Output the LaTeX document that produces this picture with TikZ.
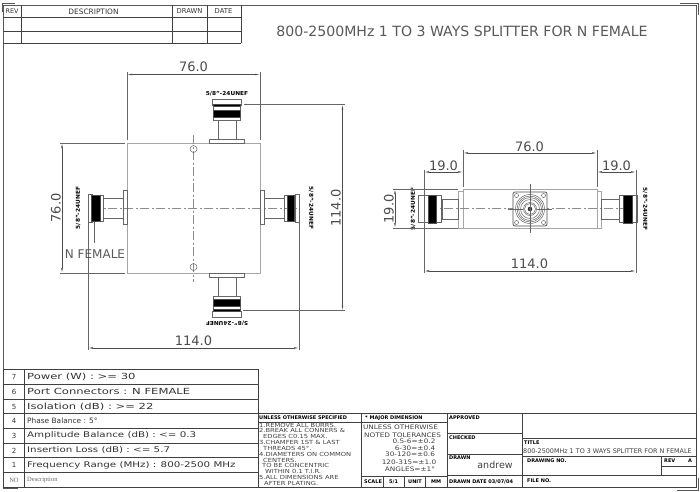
\documentclass[tikz,border=0pt]{standalone}
\usepackage{fontspec}
\setmainfont{DejaVu Sans}
\newfontfamily\notefont{Liberation Serif}
\usetikzlibrary{arrows.meta}
\tikzset{
	frameline/.style={draw=black!65,line width=0.7pt},
	cellline/.style={draw=black!75,line width=0.6pt},
	bodyline/.style={draw=black!35,line width=0.6pt},
	partline/.style={draw=black!60,line width=0.5pt},
	nutband/.style={fill=black,draw=black!70,line width=0.3pt},
	centerline/.style={draw=black!45,line width=0.5pt,dash pattern=on 9pt off 2.5pt on 2pt off 2.5pt},
	extline/.style={draw=black!60,line width=0.5pt},
	dimline/.style={draw=black!70,line width=0.5pt,{Latex[length=5pt,width=1.6pt]}-{Latex[length=5pt,width=1.6pt]}},
	dimtext/.style={inner sep=0pt,text=black!70,font=\fontsize{13}{13}\selectfont},
	tablehead/.style={inner sep=0pt,text=black!80,font=\fontsize{7.4}{7.4}\selectfont},
	threadtext/.style={inner sep=0pt,font=\bfseries\fontsize{5.4}{5.4}\selectfont\addfontfeature{FakeStretch=1.08}},
	headtext/.style={inner sep=0pt,anchor=west,font=\bfseries\fontsize{5}{5}\selectfont},
	spectext/.style={inner sep=0pt,anchor=west,text=black!80},
	notetext/.style={inner sep=0pt,anchor=west,text=black!75,font=\fontsize{5.6}{5.6}\selectfont\addfontfeature{FakeStretch=1.2}},
	toltext/.style={inner sep=0pt,text=black!75,font=\fontsize{6.2}{6.2}\selectfont\addfontfeature{FakeStretch=1.18}},
}
\begin{document}
\begin{tikzpicture}[x=1pt,y=-1pt]
	\useasboundingbox (0,0) rectangle (700,491);
	
	% Frame
	\draw[frameline] (3,488) -- (3,5) -- (696,5) -- (696,478);
	\draw[frameline] (3,488) -- (18,488);
	\draw[frameline] (2,12) -- (2,3) -- (15,3);
	\draw[frameline] (680,3) -- (698,3) -- (698,15);
	\draw[frameline] (698,478) -- (698,490) -- (677,490);
	
	% Revision table
	\draw[cellline] (3,17) -- (241,17) (3,31) -- (241,31) (3,43) -- (241,43);
	\draw[cellline] (21,5) -- (21,43) (172,5) -- (172,43) (207,5) -- (207,43) (241,5) -- (241,43);
	\node[tablehead,font=\fontsize{6.4}{6.4}\selectfont] (rev) at (12,11.5) {REV};
	\node[tablehead] (description) at (93.5,11.5) {DESCRIPTION};
	\node[tablehead,font=\fontsize{6.8}{6.8}\selectfont] (drawn) at (189.5,11.5) {DRAWN};
	\node[tablehead,font=\fontsize{6.8}{6.8}\selectfont] (date) at (223.5,11.5) {DATE};
	\node[inner sep=0pt,text=black!65,font=\fontsize{14.1}{15}\selectfont] (title) at (462,31) {800-2500MHz 1 TO 3 WAYS SPLITTER FOR N FEMALE};
	
	% Left view, body
	\draw[bodyline] (127,143) rectangle (260,273);
	\draw[centerline] (193.5,135) -- (193.5,282);
	\draw[centerline] (92,208) -- (296,208);
	\draw[partline] (193.5,149) circle (3.5);
	\draw[partline] (193.5,267) circle (3.5);
	
	% Left view, top connector
	\draw[partline] (209,139) rectangle (244,143);
	\draw[partline] (218,120) rectangle (236,139);
	\draw[partline] (212,99) rectangle (241,105);
	\draw[partline] (213,105) rectangle (240,120);
	\draw[nutband] (213,104.5) rectangle (240,106.5);
	\draw[nutband] (213,110) rectangle (240,117);
	\node[threadtext] (threadtop) at (227,94) {5/8"-24UNEF};
	
	% Left view, bottom connector
	\draw[partline] (209,273) rectangle (244,277);
	\draw[partline] (218,277) rectangle (236,296);
	\draw[partline] (212,311) rectangle (241,317);
	\draw[partline] (213,296) rectangle (240,311);
	\draw[nutband] (213,309.5) rectangle (240,311.5);
	\draw[nutband] (213,299) rectangle (240,306);
	\node[threadtext,rotate=180] (threadbottom) at (227,323) {5/8"-24UNEF};
	
	% Left view, left connector
	\draw[partline] (123,190) rectangle (127,224);
	\draw[partline] (103,198) rectangle (123,218);
	\draw[partline] (88,194) rectangle (92,222);
	\draw[partline] (92,195) rectangle (103,221);
	\draw[nutband] (91,195) -- (100,195) -- (100,221) -- (91,221) -- cycle;
	\node[threadtext,rotate=90] (threadleft) at (78,208) {5/8"-24UNEF};
	
	% Left view, right connector
	\draw[partline] (260,190) rectangle (264,224);
	\draw[partline] (264,198) rectangle (284,218);
	\draw[partline] (295,194) rectangle (299,222);
	\draw[partline] (284,195) rectangle (295,221);
	\draw[nutband] (287,195) -- (294,195) -- (294,221) -- (287,221) -- cycle;
	\node[threadtext,rotate=-90] (threadright) at (311,208) {5/8"-24UNEF};
	
	% Left view, dimensions
	\draw[extline] (127,72) -- (127,140);
	\draw[extline] (260,72) -- (260,140);
	\draw[dimline] (127,74.5) -- (260,74.5);
	\node[dimtext] (widthtop) at (193.5,67) {76.0};
	\draw[extline] (60,143) -- (125,143);
	\draw[extline] (60,273) -- (125,273);
	\draw[dimline] (62,143) -- (62,273);
	\node[dimtext,rotate=90] (heightleft) at (56,208) {76.0};
	\draw[extline] (244,104.5) -- (345,104.5);
	\draw[extline] (243,310.5) -- (345,310.5);
	\draw[dimline] (342.5,104.5) -- (342.5,310.5);
	\node[dimtext,rotate=90] (heightright) at (336,208) {114.0};
	\draw[extline] (88,222) -- (88,350);
	\draw[extline] (299,222) -- (299,350);
	\draw[dimline] (88,348) -- (299,348);
	\node[dimtext] (widthbottom) at (193.5,341) {114.0};
	\draw[extline] (94,222) -- (94,243);
	\node[inner sep=0pt,text=black!65,font=\fontsize{12}{12}\selectfont] (femalelabel) at (95,254) {N FEMALE};
	
	% Right view, body
	\draw[bodyline] (463,189) rectangle (597,228);
	\draw[bodyline] (458,191) rectangle (463,228);
	\draw[bodyline] (597,191) rectangle (601,228);
	\draw[centerline] (428,208.5) -- (632,208.5);
	
	% Right view, connectors
	\draw[partline] (442,199) rectangle (458,219);
	\draw[partline] (601,199) rectangle (619,219);
	\draw[partline] (418,195) rectangle (428,222);
	\draw[partline] (428,195) rectangle (441,222);
	\draw[nutband] (428,195) rectangle (436,223);
	\draw[partline] (632,195) rectangle (637,222);
	\draw[partline] (619,195) rectangle (632,222);
	\draw[nutband] (623,195) rectangle (632,223);
	\node[threadtext,rotate=90] (threadsideleft) at (413,209) {5/8"-24UNEF};
	\node[threadtext,rotate=-90] (threadsideright) at (645,209) {5/8"-24UNEF};
	
	% Right view, square flange
	\draw[fill=white,draw=black!70,line width=0.7pt,rounded corners=2pt] (513,192) rectangle (547,226);
	\foreach \r in {14.5,13,11.5,9.5,6.5,5.5}
		\draw[partline] (530,209) circle (\r);
	\draw[fill=black!70] (530,209) circle (2);
	\foreach \i in {-1,1}
		\foreach \j in {-1,1}
			\draw[partline] (530+13.5*\i,209+13.5*\j) circle (2);
	\draw[partline] (530,184) -- (530,233);
	\draw[partline] (508,209) -- (523,209);
	\draw[partline] (537,209) -- (552,209);
	
	% Right view, dimensions
	\draw[extline] (463,150) -- (463,187);
	\draw[extline] (597,150) -- (597,187);
	\draw[dimline] (463,153) -- (597,153);
	\node[dimtext] (widthside) at (529.5,147) {76.0};
	\draw[extline] (424,170) -- (424,273);
	\draw[extline] (636,170) -- (636,273);
	\draw[dimline] (424,172) -- (463,172);
	\draw[dimline] (597,172) -- (636,172);
	\node[dimtext] (stubleft) at (443.5,166) {19.0};
	\node[dimtext] (stubright) at (616.5,166) {19.0};
	\draw[extline] (393,189) -- (458,189);
	\draw[extline] (393,228) -- (458,228);
	\draw[dimline] (395,189) -- (395,228);
	\node[dimtext,rotate=90] (heightside) at (389,209) {19.0};
	\draw[dimline] (424,271) -- (636,271);
	\node[dimtext] (lengthside) at (529.5,264) {114.0};
	
	% Specification table
	\draw[cellline] (3,369.5) -- (258,369.5) -- (258,487) -- (3,487) -- cycle;
	\foreach \y in {384,399,413.5,428,443,457.5,472.5}
		\draw[cellline] (3,\y) -- (258,\y);
	\draw[cellline] (24.5,369.5) -- (24.5,487);
	\foreach \n/\y/\size/\wide/\txt in {7/377/8.4/1.38/{Power (W) : >= 30},
		6/391.5/8.4/1.38/{Port Connectors : N FEMALE},
		5/406.5/8.4/1.38/{Isolation (dB) : >= 22},
		4/421/7.4/1.0/{Phase Balance : 5°},
		3/435.5/7.8/1.32/{Amplitude Balance (dB) : <= 0.3},
		2/450.5/7.8/1.32/{Insertion Loss (dB) : <= 5.7},
		1/465/7.8/1.32/{Frequency Range (MHz) : 800-2500 MHz}} {
		\node[inner sep=0pt,text=black!80,font=\fontsize{7}{7}\selectfont] (no\n) at (14,\y) {\n};
		\node[spectext,font=\fontsize{\size}{\size}\selectfont\addfontfeature{FakeStretch=\wide}] (spec\n) at (27,\y) {\txt};
	}
	\node[inner sep=0pt,text=black!60,font=\notefont\fontsize{6.5}{6.5}\selectfont] (nohead) at (14,480) {NO};
	\node[spectext,text=black!60,font=\notefont\fontsize{6.5}{6.5}\selectfont] (descriptionhead) at (27,480) {Description};
	
	% Title block
	\draw[cellline] (258,413.5) -- (696,413.5) -- (696,487) -- (258,487);
	\draw[cellline] (258,422) -- (447,422);
	\draw[cellline] (361,476) -- (447,476);
	\draw[cellline] (361,413.5) -- (361,487);
	\draw[cellline] (383,476) -- (383,487) (404,476) -- (404,487) (425,476) -- (425,487);
	\draw[cellline] (447,413.5) -- (447,487);
	\draw[cellline] (522,413.5) -- (522,487);
	\draw[cellline] (447,433) -- (522,433) (447,454) -- (522,454);
	\draw[cellline] (447,475) -- (696,475);
	\draw[cellline] (522,438) -- (696,438) (522,456) -- (696,456);
	\draw[cellline] (661,456) -- (661,475) (661,466) -- (696,466);
	
	% Title block texts
	\node[headtext] (unless) at (259,418) {UNLESS OTHERWISE SPECIFIED};
	\node[headtext] (major) at (365,418) {* MAJOR DIMENSION};
	\node[headtext] (approved) at (449,418) {APPROVED};
	\node[headtext] (checked) at (449,438) {CHECKED};
	\node[headtext] (drawnby) at (449,458) {DRAWN};
	\node[headtext] (scale) at (364,481.5) {SCALE};
	\node[headtext] (scaleval) at (389,481.5) {5/1};
	\node[headtext] (unit) at (408,481.5) {UNIT};
	\node[headtext] (mm) at (431,481.5) {MM};
	\node[headtext] (drawndate) at (449,481.5) {DRAWN DATE 03/07/04};
	\node[headtext] (titlehead) at (524,443) {TITLE};
	\node[inner sep=0pt,anchor=west,text=black!75,font=\fontsize{6.4}{6.4}\selectfont] (titleval) at (523,451) {800-2500MHz 1 TO 3 WAYS SPLITTER FOR N FEMALE};
	\node[headtext] (drawingno) at (527,461) {DRAWING NO.};
	\node[headtext] (revhead) at (664,461) {REV};
	\node[headtext] (reva) at (688,461) {A};
	\node[headtext] (fileno) at (527,481) {FILE NO.};
	\node[inner sep=0pt,text=black!75,font=\fontsize{9.5}{9.5}\selectfont] (andrew) at (495,465) {andrew};
	
	% Notes
	\foreach \k/\x/\y/\txt in {a/259/425/{1.REMOVE ALL BURRS.},b/259/430.8/{2.BREAK ALL CONNERS \&},c/263/436.6/{EDGES C0.15 MAX.},d/259/442.4/{3.CHAMFER 1ST \& LAST},e/263/448.2/{THREADS 45°.},f/259/454/{4.DIAMETERS ON COMMON},g/263/460/{CENTERS.},h/262/465.7/{TO BE CONCENTRIC},i/265/471.2/{WITHIN 0.1 T.I.R.},j/259/477/{5.ALL DIMENSIONS ARE},l/264/483/{AFTER PLATING.}}
		\node[notetext] (note\k) at (\x,\y) {\txt};
	
	% Tolerances
	\foreach \k/\x/\y/\txt in {a/400.5/427/{UNLESS OTHERWISE},b/402.5/435/{NOTED TOLERANCES},c/414/441.5/{0.5-6=±0.2},d/415/448/{6-30=±0.4},e/410/454.5/{30-120=±0.6},f/409/462/{120-315=±1.0},g/410/469/{ANGLES=±1°}}
		\node[toltext] (tol\k) at (\x,\y) {\txt};
\end{tikzpicture}
\end{document}
